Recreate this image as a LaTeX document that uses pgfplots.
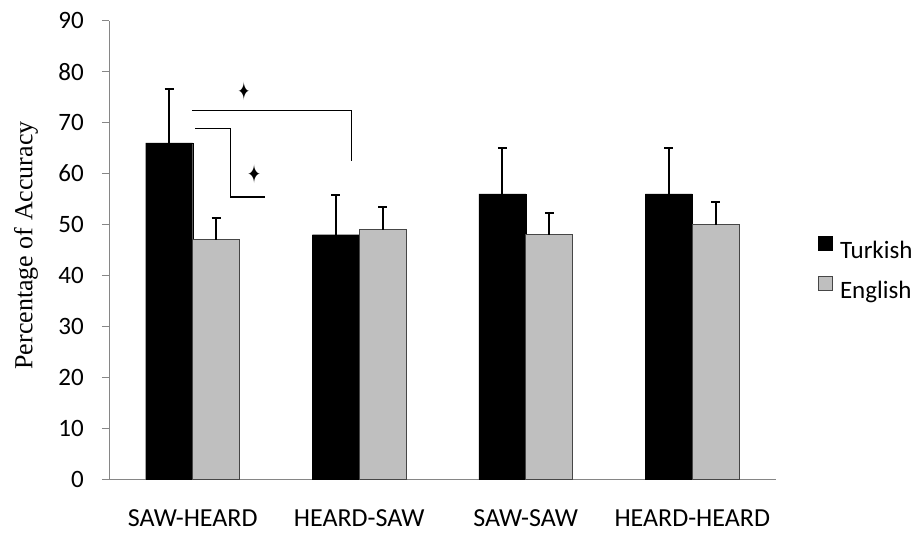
\documentclass[border=0pt]{standalone}
\usepackage{fontspec}
\usepackage{graphicx}
\usepackage{pgfplots}
\pgfplotsset{compat=1.18}
\setmainfont{Carlito}
\newfontfamily\timesfont{Liberation Serif}
\newfontfamily\symfont{DejaVu Sans}
\definecolor{axisgray}{RGB}{134,134,134}
\definecolor{engfill}{RGB}{191,191,191}
\definecolor{engdraw}{RGB}{70,70,70}
\begin{document}
\begin{tikzpicture}
\useasboundingbox (-109.5bp,-56.7bp) rectangle (811.5bp,479.3bp);
\begin{axis}[
  at={(0,0)}, anchor=south west,
  scale only axis, width=666bp, height=458.6bp,
  xmin=-0.5, xmax=3.5, ymin=0, ymax=90,
  axis x line=bottom, axis y line=left,
  axis line style={-, axisgray, line width=1.3bp},
  xtick={0,1,2,3},
  xticklabels={SAW-HEARD,HEARD-SAW,SAW-SAW,HEARD-HEARD},
  xtick style={draw=none},
  ytick={0,10,...,90},
  tick align=outside,
  major tick length=7.5bp,
  ytick style={axisgray, line width=1.3bp},
  yticklabel style={font=\fontsize{25bp}{30bp}\selectfont, black, anchor=east, inner sep=0pt, xshift=-18bp},
  xticklabel style={font=\fontsize{26bp}{30bp}\selectfont, black, anchor=north, inner sep=0pt, yshift=-22.5bp},
  /pgf/number format/assume math mode=true,
  ylabel={\timesfont Percentage of Accuracy},
  ylabel style={font=\fontsize{26bp}{30bp}\selectfont, at={(axis description cs:-0.1254,0.5098)}, anchor=center, rotate=0},
  ybar=0pt, bar width=47bp,
  error bars/y dir=plus, error bars/y explicit,
  error bars/error bar style={black, line width=2bp},
  error bars/error mark options={black, rotate=90, mark size=4.5bp, line width=2bp},
  legend style={draw=none, fill=none, at={(1.0634,0.5305)}, anchor=north west,
    inner sep=0pt, outer sep=0pt, font=\fontsize{25bp}{30bp}\selectfont,
    row sep=14bp},
  legend cell align=left,
  legend image code/.code={\draw[#1, line width=1.3bp] (0bp,0bp) rectangle (14bp,14bp); \path (19bp,0bp);},
]
\addplot[fill=black, draw=black] coordinates {
  (0,66) +- (0,10.5)
  (1,48) +- (0,7.7)
  (2,56) +- (0,9.0)
  (3,56) +- (0,9.0)
};
\addlegendentry{Turkish}
\addplot[fill=engfill, draw=engdraw, line width=1.3bp] coordinates {
  (0,47) +- (0,4.2)
  (1,49) +- (0,4.4)
  (2,48) +- (0,4.3)
  (3,50) +- (0,4.5)
};
\addlegendentry{English}
% significance brackets
\draw[black, line width=1.5bp] (axis cs:-0.006,72.4) -- (axis cs:0.954,72.4) -- (axis cs:0.954,62.5);
\draw[black, line width=1.5bp] (axis cs:0.016,68.8) -- (axis cs:0.227,68.8) -- (axis cs:0.227,55.4) -- (axis cs:0.434,55.4);
\node[inner sep=0pt] at (axis cs:0.308,76.2) {\symfont\fontsize{18bp}{18bp}\selectfont\scalebox{0.8}[1.4]{✦}};
\node[inner sep=0pt] at (axis cs:0.368,59.9) {\symfont\fontsize{19bp}{19bp}\selectfont\scalebox{0.85}[1.35]{✦}};
\end{axis}
\end{tikzpicture}
\end{document}
